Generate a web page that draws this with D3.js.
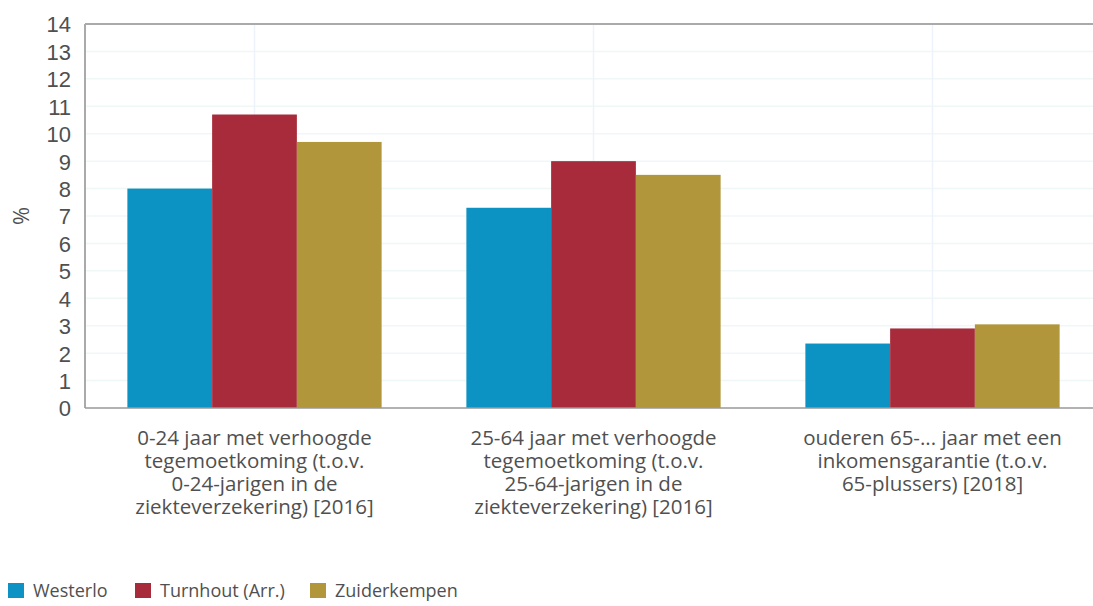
<!DOCTYPE html>
<html lang="nl">
<head>
<meta charset="utf-8">
<title>Verhoogde tegemoetkoming</title>
<style>
  body { margin: 0; background: #fff; }
  svg { display: block; font-family: "Open Sans", "Noto Sans", sans-serif; }
  .tick text { fill: #505050; }
  .cat { fill: #505050; font-size: 20.5px; }
  .legend text { fill: #505050; font-size: 18px; }
</style>
</head>
<body>
<svg width="1093" height="606"></svg>
<script src="https://d3js.org/d3.v7.min.js"></script>
<script>
  // categories (x axis), each label split into its lines
  const categories = [
    ["0-24 jaar met verhoogde", "tegemoetkoming (t.o.v.", "0-24-jarigen in de", "ziekteverzekering) [2016]"],
    ["25-64 jaar met verhoogde", "tegemoetkoming (t.o.v.", "25-64-jarigen in de", "ziekteverzekering) [2016]"],
    ["ouderen 65-... jaar met een", "inkomensgarantie (t.o.v.", "65-plussers) [2018]"]
  ];
  const series = ["Westerlo", "Turnhout (Arr.)", "Zuiderkempen"];
  const westerlo = [8.0, 7.3, 2.35];
  const turnhout = [10.7, 9.0, 2.9];
  const zuiderkempen = [9.7, 8.5, 3.05];
  const colors = ["#0d93c3", "#a82b3b", "#b2963c"];
  const yTicks = d3.range(0, 15);

  const values = [westerlo, turnhout, zuiderkempen];

  const svg = d3.select("svg");
  const margin = {top: 24, left: 85};
  const plotW = 1017, plotH = 384;

  const vis = svg.append("g")
    .attr("transform", `translate(${margin.left},${margin.top})`);

  // each group of bars fills 75% of its slot
  const x0 = d3.scaleBand()
    .domain(d3.range(categories.length))
    .range([0, plotW])
    .paddingInner(0.25)
    .paddingOuter(0.125);
  const x1 = d3.scaleBand()
    .domain(d3.range(series.length))
    .range([0, x0.bandwidth()]);

  const y = d3.scaleLinear().domain([0, 14]).range([plotH, 0]);

  // horizontal grid
  vis.append("g")
    .selectAll("line")
    .data(yTicks.slice(1))
    .join("line")
    .attr("x1", 0).attr("x2", plotW)
    .attr("y1", d => y(d)).attr("y2", d => y(d))
    .attr("stroke", "#f0f7f7").attr("stroke-width", 1.5);

  // vertical grid at group centres
  vis.append("g")
    .selectAll("line")
    .data(d3.range(categories.length))
    .join("line")
    .attr("x1", d => x0(d) + x0.bandwidth() / 2)
    .attr("x2", d => x0(d) + x0.bandwidth() / 2)
    .attr("y1", 0).attr("y2", plotH)
    .attr("stroke", "#eef2fa").attr("stroke-width", 1.5);

  // bars
  series.forEach(function(s, si) {
    vis.append("g")
      .selectAll("rect")
      .data(values[si])
      .join("rect")
      .attr("x", (d, i) => x0(i) + x1(si))
      .attr("width", x1.bandwidth())
      .attr("y", d => y(d))
      .attr("height", d => plotH - y(d))
      .attr("fill", colors[si]);
  });

  // frame: top, left and bottom lines
  vis.append("line")
    .attr("x1", 0).attr("x2", plotW).attr("y1", 0).attr("y2", 0)
    .attr("stroke", "#aaa").attr("stroke-width", 2);
  vis.append("line")
    .attr("x1", 0).attr("x2", 0).attr("y1", 0).attr("y2", plotH)
    .attr("stroke", "#aaa").attr("stroke-width", 2);
  vis.append("line")
    .attr("x1", 0).attr("x2", plotW).attr("y1", plotH).attr("y2", plotH)
    .attr("stroke", "#999").attr("stroke-width", 1.5);

  // y axis labels
  const yAxis = vis.append("g")
    .call(d3.axisLeft(y).tickValues(yTicks).tickSize(0).tickPadding(14));
  yAxis.select(".domain").remove();
  yAxis.selectAll("text").style("font-size", "22px").attr("dy", "0.36em");

  svg.append("text")
    .attr("transform", "translate(29,216) rotate(-90)")
    .attr("text-anchor", "middle")
    .attr("fill", "#505050")
    .style("font-size", "22px")
    .text("%");

  // category labels
  const catG = vis.append("g");
  categories.forEach(function(lines, i) {
    const cx = x0(i) + x0.bandwidth() / 2;
    const t = catG.append("text")
      .attr("class", "cat")
      .attr("text-anchor", "middle")
      .attr("x", cx)
      .attr("y", plotH + 37);
    lines.forEach(function(l, li) {
      t.append("tspan")
        .attr("x", cx)
        .attr("dy", li === 0 ? 0 : 23)
        .text(l);
    });
  });

  // legend
  const legendX = [8, 135, 310];
  const legend = svg.append("g").attr("class", "legend");
  series.forEach(function(s, i) {
    legend.append("rect")
      .attr("x", legendX[i]).attr("y", 583)
      .attr("width", 16).attr("height", 15)
      .attr("fill", colors[i]);
    legend.append("text")
      .attr("x", legendX[i] + 25).attr("y", 597)
      .text(s);
  });
</script>
</body>
</html>
